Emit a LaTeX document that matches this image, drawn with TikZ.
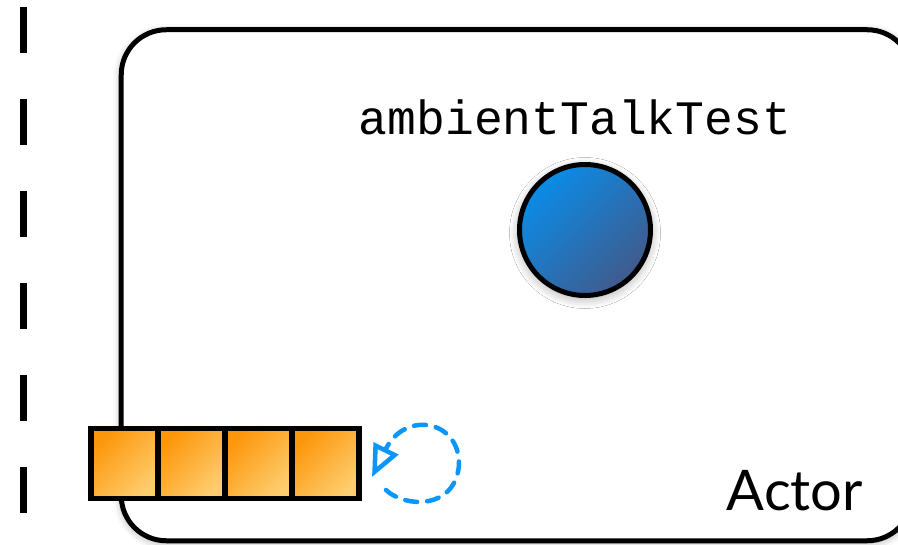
\documentclass[tikz,border=0pt]{standalone}
\usepackage{fontspec}
\newfontfamily\codefont{Liberation Mono}
\newfontfamily\labelfont{Lato}
\usetikzlibrary{arrows.meta,shadows.blur}
\definecolor{qorange}{RGB}{252,150,10}
\definecolor{qlight}{RGB}{254,205,110}
\definecolor{objtop}{RGB}{10,140,232}
\definecolor{objbot}{RGB}{65,90,140}
\definecolor{loopblue}{RGB}{10,150,250}
\tikzset{
  actorbox/.style={draw,line width=5bp,rounded corners=45bp,fill=white,
    minimum width=791bp,minimum height=511bp,inner sep=0pt,
    blur shadow={shadow xshift=0bp,shadow yshift=-2bp,shadow blur radius=8bp,shadow opacity=35}},
  qcell/.style={draw,line width=5.5bp,minimum width=67bp,minimum height=70bp,inner sep=0pt,
    top color=qorange,bottom color=qlight,shading angle=45},
  obj/.style={circle,draw,line width=5bp,minimum size=131bp,inner sep=0pt,
    top color=objtop,bottom color=objbot,shading angle=45,
    blur shadow={shadow xshift=0bp,shadow yshift=-3bp,shadow blur radius=10bp,shadow blur steps=12,shadow opacity=35}},
  divider/.style={line width=7bp,dash pattern=on 46bp off 46bp},
  selfsend/.style={loopblue,line width=4.5bp,dash pattern=on 12bp off 10bp,line cap=round,
    -{Triangle[open,length=32bp,width=27bp,line width=4.5bp]}}
}
\begin{document}
\begin{tikzpicture}[x=1bp,y=-1bp]
  \useasboundingbox (0,0) rectangle (898,545);
  \draw[divider] (23.5,7) -- (23.5,545);
  \node[actorbox] (actor) at (516.75,285.25) {};
  \node[anchor=base,font=\codefont\fontsize{48bp}{50bp}\selectfont] (name) at (575,135) {ambientTalkTest};
  \node[anchor=base east,font=\labelfont\fontsize{56bp}{60bp}\selectfont,inner sep=0pt] (actorlabel) at (863,510) {Actor};
  \node[obj] (ball) at (585,230) {};
  \foreach \i in {1,...,4}
    \node[qcell] (q\i) at (57.5+\i*67,463.5) {};
  \coordinate (loopstart) at (386,490);
  \coordinate (loopend) at (372,477);
  \draw[selfsend] (loopstart) .. controls (405,508) and (455,510) .. (459,465)
    .. controls (460,420) and (405,410) .. (loopend);
\end{tikzpicture}
\end{document}
